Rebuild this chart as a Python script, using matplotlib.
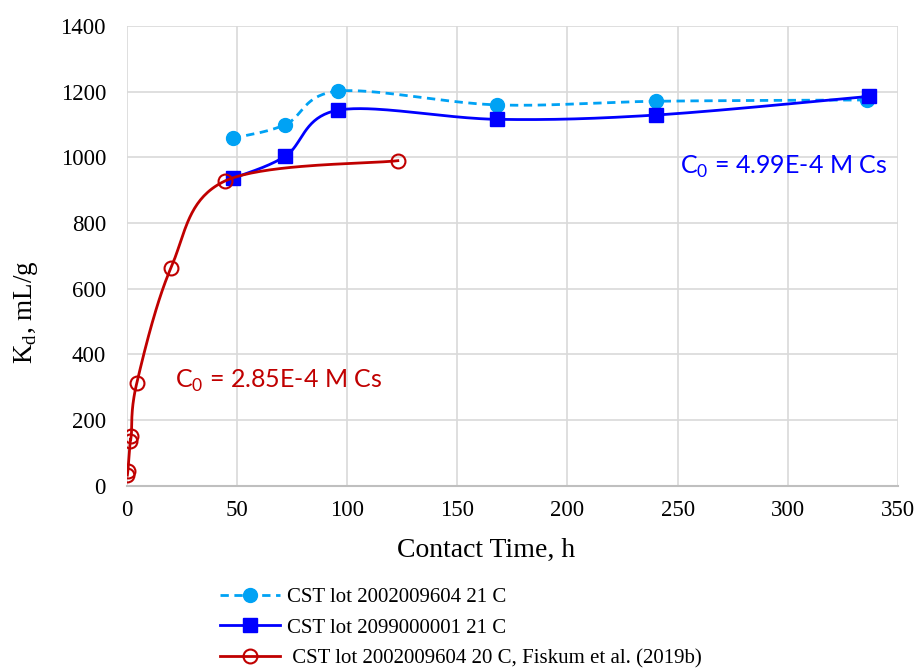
import numpy as np
import matplotlib.pyplot as plt
from matplotlib.lines import Line2D

# data
t_lot1 = [48, 72, 96, 168, 240, 336]
kd_lot1 = [1058, 1100, 1202, 1160, 1171, 1175]

t_lot2 = [48, 72, 96, 168, 240, 337]
kd_lot2 = [936, 1004, 1144, 1116, 1129, 1186]

t_fiskum = [0.25, 0.5, 1.5, 2, 4.5, 20, 44.5, 123]
kd_fiskum = [32, 46, 136, 152, 312, 663, 928, 990]

labels = ['CST lot 2002009604 21 C',
          'CST lot 2099000001 21 C',
          ' CST lot 2002009604 20 C, Fiskum et al. (2019b)']

# px per data unit, used so the smoothing happens in screen space like Excel
SX, SY = 2.2, 0.328


def smooth(x, y, n=40):
    # Catmull-Rom style bezier smoothing
    p = np.column_stack([np.asarray(x, float) * SX, np.asarray(y, float) * SY])
    out = [p[0]]
    for i in range(len(p) - 1):
        p0 = p[i - 1] if i > 0 else p[i]
        p1, p2 = p[i], p[i + 1]
        p3 = p[i + 2] if i + 2 < len(p) else p[i + 1]
        c1 = p1 + (p2 - p0) / 6
        c2 = p2 - (p3 - p1) / 6
        s = np.linspace(0, 1, n)[1:, None]
        seg = ((1 - s) ** 3 * p1 + 3 * (1 - s) ** 2 * s * c1
               + 3 * (1 - s) * s ** 2 * c2 + s ** 3 * p2)
        out.extend(seg)
    out = np.array(out)
    return out[:, 0] / SX, out[:, 1] / SY


plt.rcParams['font.family'] = ['Liberation Serif']
plt.rcParams['mathtext.fontset'] = 'custom'
plt.rcParams['mathtext.rm'] = 'Lato'

fig = plt.figure(figsize=(9.19, 6.69), dpi=100)
ax = fig.add_axes([0.138, 0.274, 0.839, 0.687])

c_lb, c_b, c_r = '#00A2F4', '#0000FF', '#C00000'

xs, ys = smooth(t_lot1, kd_lot1)
ax.plot(xs, ys, color=c_lb, lw=2, ls=(0, (3, 2)))
ax.plot(t_lot1, kd_lot1, 'o', color=c_lb, ms=10, ls='none')

xs, ys = smooth(t_lot2, kd_lot2)
ax.plot(xs, ys, color=c_b, lw=2)
ax.plot(t_lot2, kd_lot2, 's', color=c_b, ms=10, ls='none')

xs, ys = smooth(t_fiskum, kd_fiskum)
ax.plot(xs, ys, color=c_r, lw=2)
ax.plot(t_fiskum, kd_fiskum, 'o', mfc='none', mec=c_r, mew=1.5, ms=10, ls='none')

ax.text(22, 318, r'C$_0$ = 2.85E-4 M Cs', color=c_r, fontsize=18,
        family='Lato', va='center')
ax.text(251, 970, r'C$_0$ = 4.99E-4 M Cs', color=c_b, fontsize=18,
        family='Lato', va='center')

ax.set_xlim(0, 350)
ax.set_ylim(0, 1400)
ax.set_xticks(np.arange(0, 351, 50))
ax.set_yticks(np.arange(0, 1401, 200))
ax.grid(True, color='#D9D9D9', lw=1.2)
ax.set_axisbelow(True)
for s in ['top', 'right', 'left']:
    ax.spines[s].set_visible(False)
ax.spines['bottom'].set_color('#BFBFBF')
ax.spines['bottom'].set_linewidth(1.5)
ax.tick_params(length=0, labelsize=16.5)
ax.tick_params(axis='x', pad=10)
ax.tick_params(axis='y', pad=15)
ax.set_xlabel('Contact Time, h', fontsize=20)
ax.set_ylabel(r'K$_\mathregular{d}$, mL/g', fontsize=19.5)
ax.xaxis.set_label_coords(0.466, -0.114)
ax.yaxis.set_label_coords(-0.113, 0.378)

handles = [
    Line2D([], [], color=c_lb, lw=2, ls=(0, (3, 2)), marker='o', ms=10),
    Line2D([], [], color=c_b, lw=2, marker='s', ms=10),
    Line2D([], [], color=c_r, lw=2, marker='o', mfc='none', mec=c_r, mew=1.5, ms=10),
]
fig.legend(handles, labels, loc='upper left', bbox_to_anchor=(0.2394, 0.1215),
           frameon=False, fontsize=15, handlelength=2.9, handletextpad=0.3,
           labelspacing=0.52, borderaxespad=0, borderpad=0)

fig.savefig('out.png', dpi=100)
